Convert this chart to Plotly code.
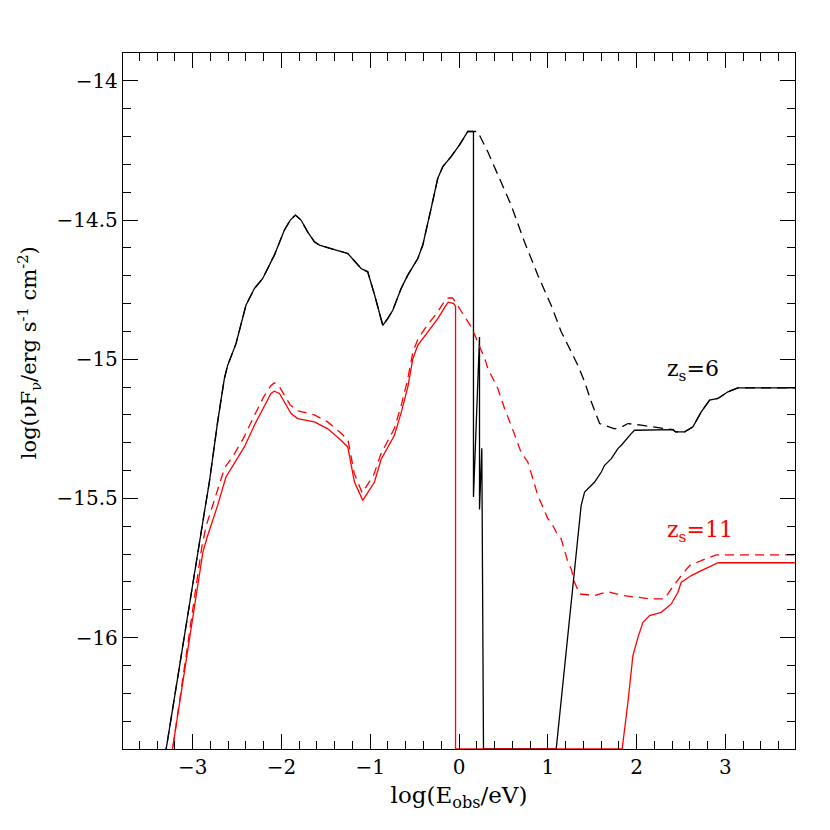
import plotly.graph_objects as go

# z_s = 6 : common part (intrinsic and absorbed coincide up to the peak)
x6_common = [-3.40, -3.30, -2.862, -2.812, -2.719, -2.643, -2.606, -2.512, -2.40, -2.305,
             -2.211, -2.08, -1.967, -1.90, -1.843, -1.78, -1.70, -1.629, -1.572, -1.385,
             -1.253, -1.103, -1.028, -0.95, -0.859, -0.803, -0.746, -0.652, -0.577, -0.464,
             -0.408, -0.314, -0.239, -0.182, -0.089, 0.006, 0.099, 0.163]
y6_common = [-16.60, -16.40, -15.537, -15.441, -15.225, -15.069, -15.022, -14.944, -14.806, -14.746,
             -14.71, -14.626, -14.536, -14.50, -14.482, -14.50, -14.545, -14.578, -14.59, -14.608,
             -14.62, -14.674, -14.686, -14.77, -14.878, -14.854, -14.824, -14.746, -14.698, -14.638,
             -14.59, -14.458, -14.35, -14.308, -14.272, -14.23, -14.182, -14.182]

# z_s = 6 : intrinsic (dashed) continuation
x6_int = [0.21, 0.323, 0.493, 0.587, 0.737, 0.888, 1.038, 1.151, 1.264, 1.339, 1.415, 1.49,
          1.584, 1.678, 1.753, 1.85, 1.903, 2.052, 2.41, 2.44, 2.542, 2.635, 2.729, 2.823,
          2.917, 3.03, 3.142, 3.80]
y6_int = [-14.182, -14.254, -14.374, -14.446, -14.578, -14.698, -14.806, -14.901, -14.973, -15.022,
          -15.081, -15.153, -15.231, -15.243, -15.25, -15.24, -15.231, -15.237, -15.253, -15.261,
          -15.261, -15.243, -15.189, -15.147, -15.141, -15.117, -15.103, -15.103]

# z_s = 6 : absorbed (solid) continuation
x6_abs = [0.163, 0.231, 0.231, 0.257, 0.276, 1.095, 1.376, 1.415, 1.49, 1.528, 1.603, 1.64,
          1.716, 1.79, 1.829, 1.903, 1.94, 1.978, 2.41, 2.44, 2.542, 2.635, 2.729, 2.823,
          2.917, 3.03, 3.142, 3.80]
y6_abs = [-15.495, -14.92, -15.54, -15.32, -16.40, -16.40, -15.525, -15.477, -15.453, -15.441, -15.405, -15.381,
          -15.357, -15.321, -15.309, -15.279, -15.267, -15.255, -15.253, -15.261, -15.261, -15.243, -15.189, -15.147,
          -15.141, -15.117, -15.103, -15.103]

# z_s = 11 : intrinsic (dashed)
x11_int = [-3.30, -3.226, -2.90, -2.85, -2.74, -2.64, -2.54, -2.43, -2.31, -2.20, -2.12, -2.08,
           -2.03, -1.90, -1.82, -1.63, -1.48, -1.33, -1.25, -1.18, -1.09, -0.96, -0.88, -0.73,
           -0.65, -0.58, -0.52, -0.46, -0.35, -0.24, -0.15, -0.12, -0.07, 0.06, 0.14, 0.29,
           0.325, 0.437, 0.513, 0.587, 0.70, 0.775, 0.888, 1.001, 1.038, 1.114, 1.151, 1.227,
           1.264, 1.302, 1.358, 1.528, 1.678, 1.847, 2.166, 2.316, 2.391, 2.504, 2.598, 2.729,
           2.898, 3.80]
y11_int = [-16.55, -16.40, -15.68, -15.60, -15.49, -15.39, -15.345, -15.285, -15.205, -15.135, -15.095, -15.085,
           -15.095, -15.165, -15.185, -15.20, -15.225, -15.265, -15.29, -15.41, -15.48, -15.415, -15.34, -15.25,
           -15.165, -15.075, -14.975, -14.925, -14.875, -14.83, -14.785, -14.78, -14.78, -14.845, -14.885, -14.997,
           -15.033, -15.105, -15.177, -15.237, -15.335, -15.369, -15.489, -15.573, -15.585, -15.633, -15.645, -15.729,
           -15.753, -15.801, -15.843, -15.849, -15.835, -15.849, -15.861, -15.861, -15.825, -15.777, -15.741, -15.723,
           -15.703, -15.703]

# z_s = 11 : absorbed (solid)
x11_abs = [-3.30, -3.226, -2.885, -2.831, -2.719, -2.625, -2.53, -2.418, -2.305, -2.192, -2.118, -2.08,
           -2.023, -1.892, -1.817, -1.629, -1.478, -1.329, -1.253, -1.178, -1.084, -0.952, -0.878, -0.727,
           -0.65, -0.577, -0.52, -0.464, -0.351, -0.239, -0.145, -0.12, -0.06, -0.039, -0.039, 1.838,
           1.903, 1.959, 2.016, 2.072, 2.147, 2.278, 2.391, 2.466, 2.504, 2.617, 2.729, 2.88,
           2.92, 3.80]
y11_abs = [-16.55, -16.40, -15.693, -15.633, -15.525, -15.423, -15.375, -15.315, -15.237, -15.165, -15.123, -15.115,
           -15.123, -15.195, -15.213, -15.225, -15.25, -15.291, -15.315, -15.441, -15.507, -15.441, -15.36, -15.273,
           -15.19, -15.10, -14.998, -14.95, -14.901, -14.854, -14.806, -14.795, -14.80, -14.81, -16.40, -16.40,
           -16.232, -16.065, -15.999, -15.945, -15.921, -15.909, -15.879, -15.837, -15.801, -15.777, -15.759, -15.735,
           -15.731, -15.731]

serif = "DejaVu Serif"

fig = go.Figure()
fig.add_trace(go.Scatter(x=x6_common + x6_int, y=y6_common + y6_int, mode="lines",
                         line=dict(color="black", width=1.3, dash="10px,6px")))
fig.add_trace(go.Scatter(x=x6_common + x6_abs, y=y6_common + y6_abs, mode="lines",
                         line=dict(color="black", width=1.3)))
fig.add_trace(go.Scatter(x=x11_int, y=y11_int, mode="lines",
                         line=dict(color="red", width=1.3, dash="9px,6px")))
fig.add_trace(go.Scatter(x=x11_abs, y=y11_abs, mode="lines",
                         line=dict(color="red", width=1.3)))

fig.add_annotation(x=2.32, y=-15.04, text="z<sub>s</sub>=6", showarrow=False,
                   xanchor="left", yanchor="middle", font=dict(family=serif, size=22, color="black"))
fig.add_annotation(x=2.32, y=-15.62, text="z<sub>s</sub>=11", showarrow=False,
                   xanchor="left", yanchor="middle", font=dict(family=serif, size=22, color="red"))

# y title as annotation so it can sit slightly above centre like the original
fig.add_annotation(xref="paper", yref="paper", x=-0.14, y=0.57, textangle=-90,
                   text="log(νF<sub>ν</sub>/erg s<sup>-1</sup> cm<sup>-2</sup>)", showarrow=False,
                   xanchor="center", yanchor="middle", font=dict(family=serif, size=21, color="black"))

axis_common = dict(showline=True, linecolor="black", linewidth=1.3, mirror="allticks",
                   ticks="inside", tickcolor="black", tickwidth=1.2, ticklen=15,
                   showgrid=False, zeroline=False, tickfont=dict(family=serif, size=20, color="black"))

fig.update_xaxes(range=[-3.785, 3.785], tick0=0, dtick=1,
                 minor=dict(ticks="inside", ticklen=8, dtick=0.2, tick0=0, tickcolor="black", tickwidth=1.2),
                 title=dict(text="log(E<sub>obs</sub>/eV)", font=dict(family=serif, size=23, color="black"), standoff=8),
                 **axis_common)
fig.update_yaxes(range=[-16.4, -13.9], tick0=-14, dtick=0.5,
                 minor=dict(ticks="inside", ticklen=8, dtick=0.1, tick0=-14, tickcolor="black", tickwidth=1.2),
                 **axis_common)

fig.update_layout(width=830, height=830, showlegend=False,
                  plot_bgcolor="white", paper_bgcolor="white",
                  margin=dict(l=115, r=43, t=45, b=89))

fig.write_html("out.html")
